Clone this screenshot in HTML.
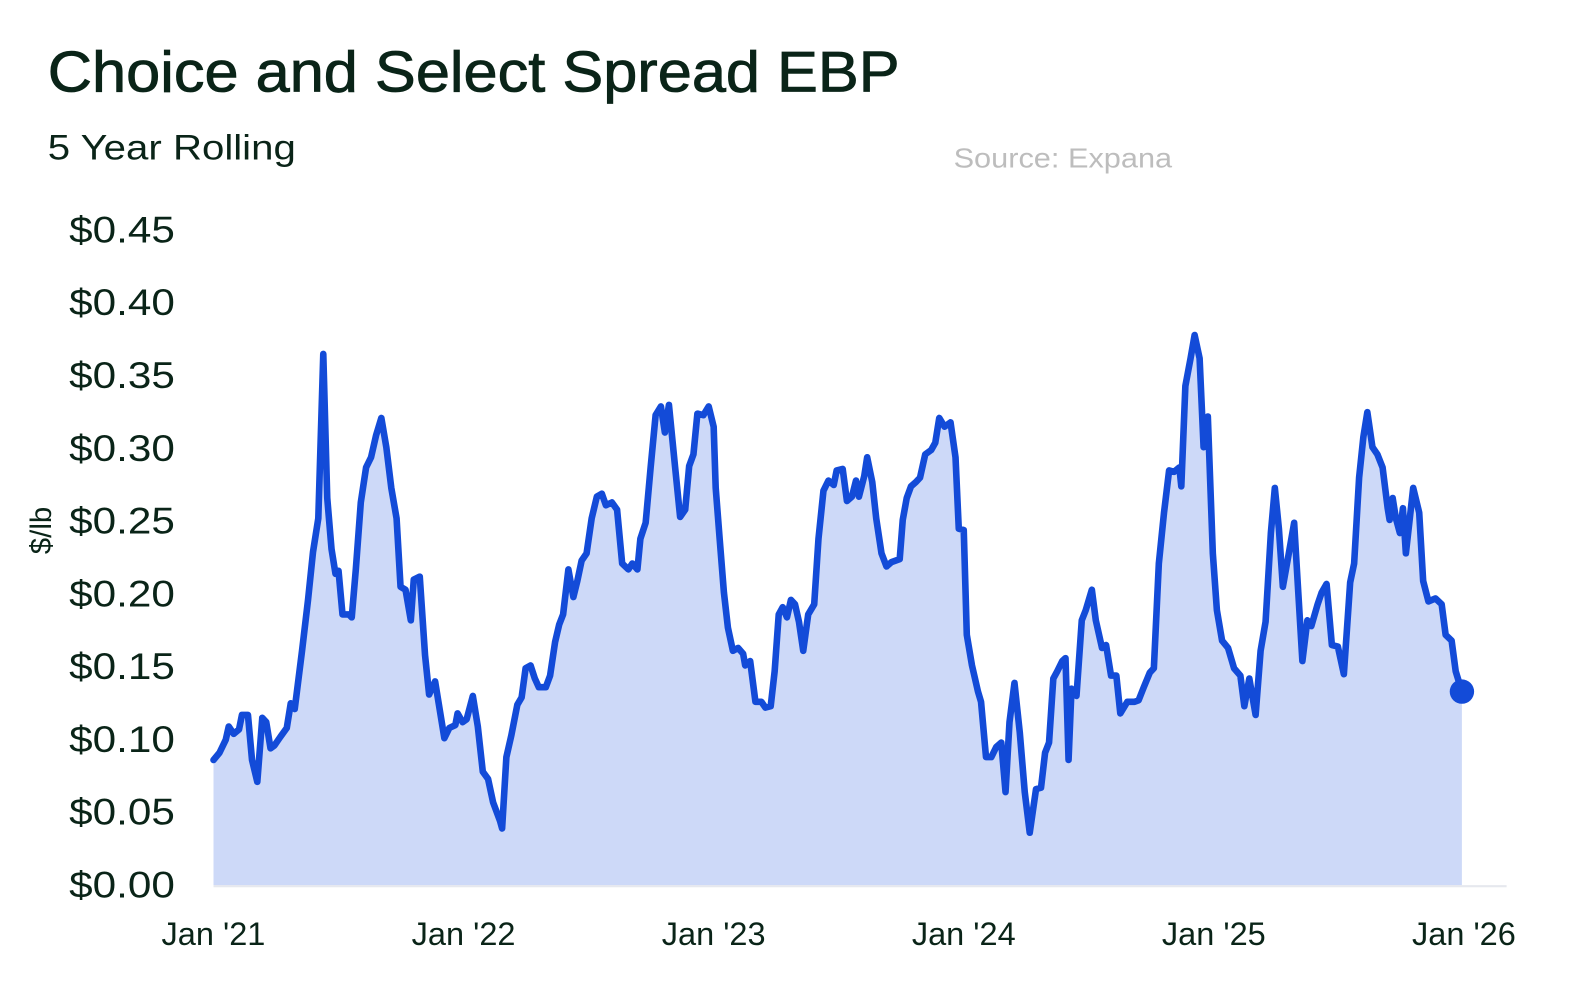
<!DOCTYPE html>
<html><head><meta charset="utf-8"><style>
html,body{margin:0;padding:0;background:#fff;width:1591px;height:1000px;overflow:hidden}
svg{display:block}
text{font-family:"Liberation Sans",sans-serif;fill:#0a2418}
</style></head><body>
<svg id="chart" width="1591" height="1000" viewBox="0 0 1565 984" preserveAspectRatio="none" xmlns="http://www.w3.org/2000/svg">
<text x="47" y="90" font-size="57" textLength="838" lengthAdjust="spacingAndGlyphs" style="stroke:#0a2418;stroke-width:0.8">Choice and Select Spread EBP</text>
<text x="47" y="157" font-size="35" textLength="244" lengthAdjust="spacingAndGlyphs">5 Year Rolling</text>
<text x="938" y="165" font-size="27" style="fill:#bdbdbd" textLength="215" lengthAdjust="spacingAndGlyphs">Source: Expana</text>
<text transform="translate(50,522) rotate(-90)" text-anchor="middle" font-size="29">$/lb</text>
<g id="yticks"></g>
<g id="xticks"></g>
<line x1="210" y1="872" x2="1482" y2="872" stroke="#e6e8ee" stroke-width="2"/>
<path id="area" fill="#cdd9f8"/>
<path id="line" fill="none" stroke="#134bd8" stroke-width="6.5" stroke-linejoin="round" stroke-linecap="round"/>
<circle id="lastDot" r="12" fill="#134bd8"/>
</svg>
<script>
const yTickValues=[0,0.05,0.10,0.15,0.20,0.25,0.30,0.35,0.40,0.45];
const yTickLabels=["$0.00","$0.05","$0.10","$0.15","$0.20","$0.25","$0.30","$0.35","$0.40","$0.45"];
const xTickYears=[0,1,2,3,4,5];
const xTickLabels=["Jan '21","Jan '22","Jan '23","Jan '24","Jan '25","Jan '26"];
const yearsSinceJan21=[0,.024,.049,.061,.081,.102,.114,.138,.154,.175,.195,.211,.228,.244,.268,.293,.309,.325,.354,.378,.398,.419,.439,.455,.472,.488,.5,.516,.541,.553,.569,.589,.61,.63,.65,.671,.691,.711,.732,.748,.768,.789,.801,.825,.846,.862,.886,.923,.943,.967,.976,.996,1.012,1.037,1.057,1.077,1.098,1.118,1.146,1.154,1.171,1.191,1.215,1.232,1.248,1.268,1.285,1.301,1.329,1.346,1.366,1.382,1.398,1.419,1.439,1.455,1.472,1.492,1.512,1.533,1.553,1.569,1.593,1.614,1.634,1.659,1.675,1.695,1.707,1.728,1.748,1.768,1.789,1.805,1.821,1.846,1.866,1.886,1.902,1.919,1.935,1.959,1.98,2,2.008,2.024,2.041,2.057,2.077,2.098,2.118,2.126,2.146,2.167,2.191,2.207,2.228,2.244,2.26,2.276,2.293,2.309,2.325,2.341,2.358,2.378,2.402,2.419,2.439,2.459,2.48,2.492,2.516,2.533,2.553,2.569,2.581,2.602,2.614,2.634,2.65,2.671,2.691,2.711,2.744,2.756,2.772,2.789,2.809,2.825,2.846,2.87,2.886,2.902,2.923,2.947,2.967,2.98,3,3.012,3.033,3.057,3.069,3.089,3.11,3.13,3.15,3.167,3.183,3.203,3.224,3.244,3.264,3.289,3.309,3.325,3.341,3.358,3.374,3.394,3.407,3.419,3.431,3.451,3.472,3.488,3.512,3.528,3.553,3.569,3.589,3.61,3.626,3.654,3.683,3.699,3.72,3.744,3.76,3.78,3.801,3.821,3.841,3.862,3.87,3.886,3.907,3.923,3.943,3.959,3.976,3.996,4.012,4.033,4.057,4.081,4.106,4.122,4.142,4.167,4.187,4.207,4.228,4.244,4.26,4.276,4.301,4.321,4.337,4.354,4.374,4.39,4.415,4.431,4.451,4.472,4.496,4.52,4.545,4.561,4.581,4.598,4.614,4.634,4.654,4.675,4.695,4.703,4.715,4.728,4.744,4.756,4.768,4.797,4.821,4.837,4.858,4.886,4.911,4.927,4.951,4.967,4.992];
const spreadValues=[.086,.091,.100,.109,.104,.107,.117,.117,.086,.071,.115,.112,.094,.096,.102,.108,.125,.121,.161,.196,.229,.252,.365,.266,.231,.214,.216,.186,.186,.184,.217,.263,.287,.294,.309,.321,.301,.273,.252,.205,.203,.182,.210,.212,.158,.131,.140,.101,.108,.110,.118,.112,.114,.130,.109,.078,.073,.057,.044,.039,.088,.103,.124,.129,.149,.151,.142,.136,.136,.144,.167,.179,.186,.217,.198,.209,.223,.228,.252,.267,.269,.261,.263,.258,.221,.217,.221,.217,.238,.249,.287,.323,.329,.311,.330,.287,.253,.258,.288,.296,.324,.323,.329,.315,.273,.238,.201,.177,.161,.163,.159,.151,.154,.126,.126,.122,.123,.147,.186,.191,.184,.196,.193,.181,.161,.186,.193,.238,.271,.278,.275,.285,.286,.264,.267,.278,.267,.281,.294,.277,.252,.228,.219,.222,.224,.251,.266,.274,.277,.280,.296,.299,.304,.321,.315,.318,.294,.245,.244,.172,.151,.133,.126,.088,.088,.095,.098,.064,.112,.139,.105,.064,.036,.066,.067,.091,.098,.142,.147,.154,.156,.086,.135,.130,.182,.189,.203,.182,.163,.165,.144,.144,.118,.126,.126,.127,.136,.146,.149,.221,.256,.285,.284,.287,.274,.343,.362,.378,.362,.301,.322,.228,.189,.168,.163,.149,.144,.123,.142,.117,.161,.181,.242,.273,.245,.205,.229,.249,.203,.154,.182,.178,.193,.201,.207,.165,.164,.145,.208,.221,.280,.308,.325,.301,.296,.287,.259,.251,.266,.252,.242,.259,.228,.273,.256,.209,.195,.197,.193,.172,.168,.147,.133];

const NS="http://www.w3.org/2000/svg";
const X0=210,PXY=246,Y0=871,PXV=1432;
function xScale(t){return X0+t*PXY;}
function yScale(v){return Y0-v*PXV;}
const yg=document.getElementById('yticks');
yTickValues.forEach((v,i)=>{
  const t=document.createElementNS(NS,'text');
  t.setAttribute('x',172);t.setAttribute('y',yScale(v)+12);
  t.setAttribute('text-anchor','end');t.setAttribute('font-size','36');
  t.setAttribute('textLength','104');t.setAttribute('lengthAdjust','spacingAndGlyphs');
  t.textContent=yTickLabels[i];
  
  
  yg.appendChild(t);
});
const xg=document.getElementById('xticks');
xTickYears.forEach((v,i)=>{
  const t=document.createElementNS(NS,'text');
  t.setAttribute('x',xScale(v));t.setAttribute('y',930);
  t.setAttribute('text-anchor','middle');t.setAttribute('font-size','32');
  t.textContent=xTickLabels[i];
  
  
  xg.appendChild(t);
});
let d='';
spreadValues.forEach((v,i)=>{d+=(i?'L':'M')+xScale(yearsSinceJan21[i]).toFixed(1)+','+yScale(v).toFixed(1);});
document.getElementById('line').setAttribute('d',d);
const n=spreadValues.length;
document.getElementById('area').setAttribute('d',d+'L'+xScale(yearsSinceJan21[n-1]).toFixed(1)+','+Y0+'L'+xScale(yearsSinceJan21[0]).toFixed(1)+','+Y0+'Z');
const dot=document.getElementById('lastDot');
dot.setAttribute('cx',xScale(yearsSinceJan21[n-1]));
dot.setAttribute('cy',yScale(spreadValues[n-1]));
</script>
</body></html>
